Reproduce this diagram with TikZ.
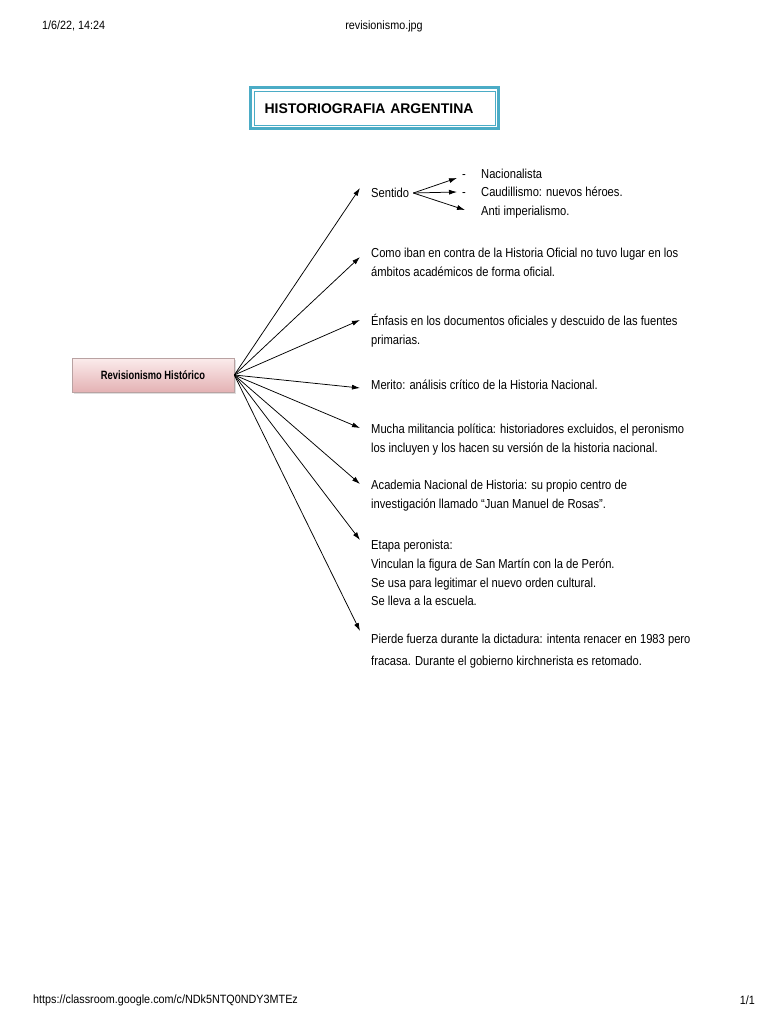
\documentclass[tikz,border=0pt]{standalone}
\usepackage{fontspec}
\setmainfont{Liberation Sans}
\newfontfamily\bodyfont{Liberation Sans}[FakeStretch=0.86]
\newfontfamily\revfont{Liberation Sans}[FakeStretch=0.78]
\newfontfamily\hdrfont{Liberation Sans}[FakeStretch=0.9]
\usetikzlibrary{arrows.meta,shadows,calc}
\definecolor{tealline}{HTML}{4BACC6}
\definecolor{pinktop}{HTML}{FBECEC}
\definecolor{pinkbot}{HTML}{E4B2B4}
\definecolor{pinkdraw}{HTML}{B9A2A2}
\begin{document}
\begin{tikzpicture}[x=1pt,y=-1pt,
  arr/.style={-{Latex[length=8pt,width=5pt]}, line width=0.75pt, black},
  body/.style={anchor=north west, inner sep=0pt, align=left,
    font=\bodyfont\fontsize{13}{18.7}\selectfont, text=black},
  hdr/.style={inner sep=0pt, font=\hdrfont\fontsize{12}{14}\selectfont, text=black},
  titlebox/.style={draw=tealline, line width=3pt, anchor=west, minimum height=41pt,
    text width=220pt, inner xsep=14pt, align=left,
    font=\bfseries\fontsize{14}{16}\selectfont},
  revbox/.style={draw=pinkdraw, line width=0.6pt, top color=pinktop, bottom color=pinkbot,
    minimum width=162pt, minimum height=34pt,
    drop shadow={shadow xshift=1.5pt, shadow yshift=-1.5pt, fill=black!25, opacity=0.5},
    font=\revfont\bfseries\fontsize{12}{14}\selectfont}]
\useasboundingbox[fill=white] (0,0) rectangle (768,1024);

% page header and footer
\node[hdr, anchor=west] (date) at (42,26) {1/6/22, 14:24};
\node[hdr] (file) at (384,26) {revisionismo.jpg};
\node[hdr, anchor=west] (url) at (33,1000) {https://classroom.google.com/c/NDk5NTQ0NDY3MTEz};
\node[hdr, anchor=east] (page) at (755,1000) {1/1};

% title
\node[titlebox] (title) at (249,108.5) {HISTORIOGRAFIA ARGENTINA};
\draw[tealline, line width=0.8pt] ($(title.north west)+(5,5)$) rectangle ($(title.south east)+(-5,-5)$);

% central node
\node[revbox] (rev) at (153,375) {Revisionismo Histórico};

% branch texts
\node[body] (sentido) at (371,184.5) {\strut Sentido};
\node[body] (como) at (371,244.5) {\strut Como iban en contra de la Historia Oficial no tuvo lugar en los\\ámbitos académicos de forma oficial.};
\node[body] (enfasis) at (371,312.5) {\strut Énfasis en los documentos oficiales y descuido de las fuentes\\primarias.};
\node[body] (merito) at (371,376.5) {\strut Merito: análisis crítico de la Historia Nacional.};
\node[body] (mucha) at (371,420.5) {\strut Mucha militancia política: historiadores excluidos, el peronismo\\los incluyen y los hacen su versión de la historia nacional.};
\node[body] (academia) at (371,476.5) {\strut Academia Nacional de Historia: su propio centro de\\investigación llamado “Juan Manuel de Rosas”.};
\node[body] (etapa) at (371,536.5) {\strut Etapa peronista:\\Vinculan la figura de San Martín con la de Perón.\\Se usa para legitimar el nuevo orden cultural.\\Se lleva a la escuela.};
\node[body, font=\bodyfont\fontsize{13}{22}\selectfont] (pierde) at (371,627.5) {\strut Pierde fuerza durante la dictadura: intenta renacer en 1983 pero\\fracasa. Durante el gobierno kirchnerista es retomado.};

% sub-branches of Sentido
\node[body] (d1) at (462,165.5) {\strut -};
\node[body] (d2) at (462,183.5) {\strut -};
\node[body] (n1) at (481,165.5) {\strut Nacionalista};
\node[body] (n2) at (481,183.5) {\strut Caudillismo: nuevos héroes.};
\node[body] (n3) at (481,202.5) {\strut Anti imperialismo.};

% connectors from central node
\draw[arr] (rev.east) -- ($(sentido.north west)+(-11,3.5)$);
\draw[arr] (rev.east) -- ($(como.north west)+(-11,12.5)$);
\draw[arr] (rev.east) -- ($(enfasis.north west)+(-11,7.5)$);
\draw[arr] (rev.east) -- ($(merito.north west)+(-11,11.5)$);
\draw[arr] (rev.east) -- ($(mucha.north west)+(-11,7.5)$);
\draw[arr] (rev.east) -- ($(academia.north west)+(-11,7.5)$);
\draw[arr] (rev.east) -- ($(etapa.north west)+(-11,3.5)$);
\draw[arr] (rev.east) -- ($(pierde.north west)+(-11,3.5)$);

% connectors from Sentido
\draw[arr] ($(sentido.north east)+(4,8.5)$) -- ($(d1.north west)+(-5,12.5)$);
\draw[arr] ($(sentido.north east)+(4,8.5)$) -- ($(d2.north west)+(-5,8.5)$);
\draw[arr] ($(sentido.north east)+(4,8.5)$) -- ($(n3.north west)+(-16,7.5)$);
\end{tikzpicture}
\end{document}
